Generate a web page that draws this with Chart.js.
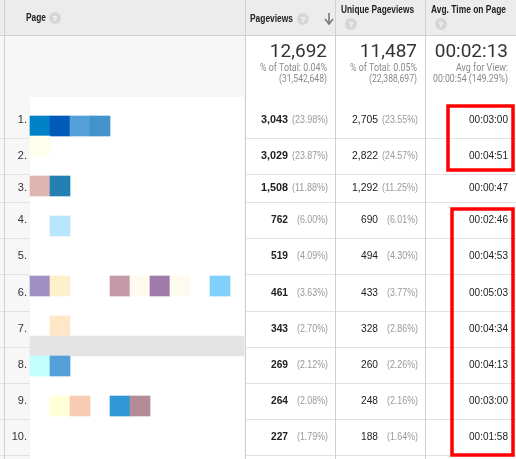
<!DOCTYPE html>
<html><head><meta charset="utf-8">
<script src="https://cdn.jsdelivr.net/npm/chart.js@4/dist/chart.umd.min.js"></script>
<style>html,body{margin:0;padding:0;background:#fff}canvas{display:block}</style>
</head><body>
<canvas id="c" width="516" height="459"></canvas>
<script>
const rowNums = ["1.","2.","3.","4.","5.","6.","7.","8.","9.","10."];
const pageviews = ["3,043","3,029","1,508","762","519","461","343","269","264","227"];
const pageviewsPct = ["(23.98%)","(23.87%)","(11.88%)","(6.00%)","(4.09%)","(3.63%)","(2.70%)","(2.12%)","(2.08%)","(1.79%)"];
const uniqueViews = ["2,705","2,822","1,292","690","494","433","328","260","248","188"];
const uniquePct = ["(23.55%)","(24.57%)","(11.25%)","(6.01%)","(4.30%)","(3.77%)","(2.86%)","(2.26%)","(2.16%)","(1.64%)"];
const avgTime = ["00:03:00","00:04:51","00:00:47","00:02:46","00:04:53","00:05:03","00:04:34","00:04:13","00:03:00","00:01:58"];
const headers = ["Page","Pageviews","Unique Pageviews","Avg. Time on Page"];
const totals = ["12,692","11,487","00:02:13"];
const totalsSub1 = ["% of Total: 0.04%","% of Total: 0.05%","Avg for View:"];
const totalsSub2 = ["(31,542,648)","(22,388,697)","00:00:54 (149.29%)"];
// blurred thumbnail cells: [grid row, grid col start, grid col end, colour]
const cellRows = [0,0,0,0,1,3,3,5,8,8,8,8,8,8,8,10,11,12,12,14,14,14,14];
const cellCols = [0,1,2,3,0,0,1,1,0,1,4,5,6,7,9,1,0,0,1,1,2,4,5];
const cellEnds = [1,2,3,4,1,1,2,2,1,2,5,6,7,8,10,2,10.7,1,2,2,3,5,6];
const cellColors = ["#0082c8","#005bb8","#55a0d8","#4292cc","#ffffee","#ddb6b0","#2480b0","#b8e6fc","#a090c4","#fff0cc","#c49aa8","#fffaee","#a07aa8","#fffaee","#80d0fc","#ffe6c6","#e4e4e4","#c4ffff","#55a0d8","#ffffd8","#f8ccb4","#3098d4","#b48c98"];

const rowY = [120,156,188,220,256,293,329,365,401,437];
const rowLines = [138,174,202,238,274,311,347,383,419,455];

const cellData = cellRows.map((r,i)=>({y:116+20*r+10, x:[30+20*cellCols[i], 30+20*cellEnds[i]]}));

const F = "'Liberation Sans', Arial, sans-serif";
const R = "Roboto, Arial, sans-serif";
const tablePlugin = {
  id:'table',
  beforeDatasetsDraw(chart){
    const c=chart.ctx, X=chart.scales.x, Y=chart.scales.y;
    const px=v=>X.getPixelForValue(v), py=v=>Y.getPixelForValue(v);
    c.save();
    c.fillStyle="#fff"; c.fillRect(px(0),py(0),px(516)-px(0),py(459)-py(0));
    c.fillStyle="#ececec"; c.fillRect(px(0),py(0),px(516),py(35));
    c.fillStyle="#f7f7f7"; c.fillRect(px(0),py(35),px(245),py(459)-py(35));
    c.fillStyle="#fff"; c.fillRect(px(30),py(97),px(244)-px(30),py(459)-py(97));
    c.strokeStyle="#e2e2e2"; c.lineWidth=1;
    rowLines.forEach(y=>{c.beginPath();c.moveTo(px(0),py(y)+.5);c.lineTo(px(30),py(y)+.5);c.moveTo(px(245),py(y)+.5);c.lineTo(px(516),py(y)+.5);c.stroke();});
    c.strokeStyle="#d0d0d0";
    c.beginPath();c.moveTo(0,py(35)+.5);c.lineTo(px(516),py(35)+.5);c.stroke();
    [4,245,335,425].forEach(x=>{c.beginPath();c.moveTo(px(x)+.5,py(0));c.lineTo(px(x)+.5,py(459));c.stroke();});
    c.restore();
  },
  afterDraw(chart){
    const c=chart.ctx, X=chart.scales.x, Y=chart.scales.y;
    const px=v=>X.getPixelForValue(v), py=v=>Y.getPixelForValue(v);
    c.save(); c.textBaseline="middle";
    const help=(x,y)=>{c.fillStyle="#d6d6d6";c.beginPath();c.arc(px(x),py(y),6,0,Math.PI*2);c.fill();c.fillStyle="#fff";c.font="bold 8px "+F;c.textAlign="center";c.fillText("?",px(x),py(y)+.5);};
    const head=(t,x,y,w)=>{c.fillStyle="#222"; c.font="bold 11px "+F; c.textAlign="left"; c.fillText(t,px(x),py(y),w);};
    head(headers[0],26,18,20); help(55,18);
    head(headers[1],250,19,43); help(303,19);
    head(headers[2],341,10,73); help(351,24);
    head(headers[3],431,10,75); help(441,24);
    // sort arrow
    c.strokeStyle="#777";c.lineWidth=1.6;
    c.beginPath();c.moveTo(px(329),py(13));c.lineTo(px(329),py(23));c.stroke();
    c.beginPath();c.moveTo(px(325),py(19));c.lineTo(px(329),py(24));c.lineTo(px(333),py(19));c.stroke();
    const tx=[327,417,508];
    totals.forEach((t,i)=>{
      c.textAlign="right"; c.fillStyle="#333"; c.font="19px "+R; c.fillText(t,px(tx[i]),py(52));
      c.fillStyle="#8a8a8a"; c.font="10px "+R; c.fillText(totalsSub1[i],px(tx[i]),py(68),i==2?52:67); c.fillText(totalsSub2[i],px(tx[i]),py(79),i==2?75:48);
    });
    rowY.forEach((y,i)=>{
      c.textAlign="right";
      const w4=pageviews[i].length>3?27:17;
      c.fillStyle="#333"; c.font="11px "+F; c.fillText(rowNums[i],px(27),py(y));
      c.fillStyle="#222"; c.font="bold 11px "+F; c.fillText(pageviews[i],px(288),py(y),w4);
      c.fillStyle="#999"; c.font="11px "+F; c.fillText(pageviewsPct[i],px(328),py(y),pageviewsPct[i].length>7?36:31);
      c.fillStyle="#222"; c.fillText(uniqueViews[i],px(378),py(y),uniqueViews[i].length>3?26:17);
      c.fillStyle="#999"; c.fillText(uniquePct[i],px(418),py(y),uniquePct[i].length>7?36:31);
      c.fillStyle="#222"; c.fillText(avgTime[i],px(508),py(y),39);
    });
    c.strokeStyle="#f00"; c.lineWidth=3.5;
    c.strokeRect(px(448),py(106),px(513)-px(448),py(170)-py(106));
    c.strokeRect(px(452),py(209),px(513)-px(452),py(455)-py(209));
    c.restore();
  }
};

new Chart(document.getElementById('c'),{
  type:'bar',
  data:{datasets:[{data:cellData,backgroundColor:cellColors,barThickness:20,borderWidth:0}]},
  options:{
    indexAxis:'y', responsive:false, animation:false, devicePixelRatio:1,
    layout:{padding:0},
    plugins:{legend:{display:false},tooltip:{enabled:false}},
    scales:{
      x:{type:'linear',min:0,max:516,display:false},
      y:{type:'linear',min:0,max:459,reverse:true,display:false,offset:false}
    }
  },
  plugins:[tablePlugin]
});
</script>
</body></html>
